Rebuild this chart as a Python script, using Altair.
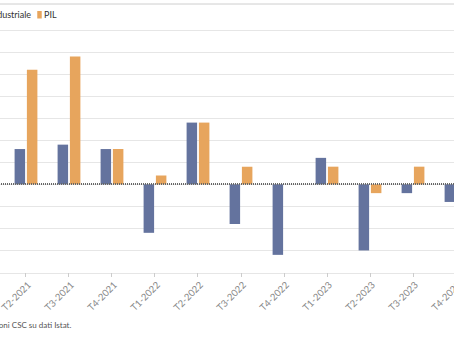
import altair as alt
import pandas as pd

trimestri = ["T2-2021", "T3-2021", "T4-2021", "T1-2022", "T2-2022", "T3-2022",
             "T4-2022", "T1-2023", "T2-2023", "T3-2023", "T4-2023"]
produzione = [0.8, 0.9, 0.8, -1.1, 1.4, -0.9, -1.6, 0.6, -1.5, -0.2, -0.4]
pil = [2.6, 2.9, 0.8, 0.2, 1.4, 0.4, 0.0, 0.4, -0.2, 0.4, 0.1]
serie = ["Produzione industriale", "PIL"]
colori = ["#64739e", "#e7a55d"]
y_ticks = [-2, -1.5, -1, -0.5, 0, 0.5, 1, 1.5, 2, 2.5, 3, 3.5]

rows = []
for t, p, g in zip(trimestri, produzione, pil):
    rows.append({"trimestre": t, "serie": serie[0], "valore": p})
    rows.append({"trimestre": t, "serie": serie[1], "valore": g})
df = pd.DataFrame(rows)

FONT = "Lato"

y_scale = alt.Scale(domain=[-2, 3.5], nice=False)
y_axis = alt.Axis(title=None, values=y_ticks, grid=True, gridColor="#e6e6e6",
                  domain=False, ticks=False, format=".1f",
                  labelColor="#888888", labelFont=FONT)

bars = alt.Chart(df).mark_bar().encode(
    x=alt.X("trimestre:N", sort=trimestri,
            scale=alt.Scale(paddingInner=0, paddingOuter=0.337),
            axis=alt.Axis(title=None, labelAngle=-45, labelColor="#888888",
                          labelFontSize=9.5, labelFont=FONT, tickColor="#cccccc",
                          tickSize=4, domain=False, grid=False, labelPadding=3)),
    xOffset=alt.XOffset("serie:N", sort=serie,
                        scale=alt.Scale(paddingInner=0.146, paddingOuter=0.821)),
    y=alt.Y("valore:Q", scale=y_scale, axis=y_axis),
    color=alt.Color("serie:N", sort=serie,
                    scale=alt.Scale(domain=serie, range=colori),
                    legend=alt.Legend(title=None, orient="none", legendX=-56, legendY=-20,
                                      direction="horizontal", labelFont=FONT,
                                      labelFontSize=9, labelColor="#333333",
                                      symbolType="M-0.6,-1H0.6V1H-0.6Z", symbolSize=56,
                                      symbolStrokeWidth=0, labelOffset=0,
                                      columnPadding=3, labelLimit=300)),
)

zero = alt.Chart(df).mark_rule(color="#666666", strokeDash=[1, 1], strokeWidth=1).encode(
    y=alt.YDatum(0, scale=y_scale, axis=y_axis)
)

top_line = alt.Chart(df).mark_rule(color="#e6e6e6", strokeWidth=1).encode(
    y=alt.value(-26)
)

chart = alt.layer(bars, zero, top_line).properties(
    width=502,
    height=242.5,
    autosize=alt.AutoSizeParams(type="none"),
    padding={"left": -10, "top": 30, "right": -38, "bottom": 68.5},
    title=alt.TitleParams(text="Elaborazioni CSC su dati Istat.", orient="bottom",
                          anchor="start", frame="group", fontSize=8,
                          fontWeight="normal", color="#555555", font=FONT,
                          offset=10, dx=-23),
    background="white",
).configure_view(stroke=None)

chart.save("out.html", embed_options={"renderer": "svg", "actions": False})
